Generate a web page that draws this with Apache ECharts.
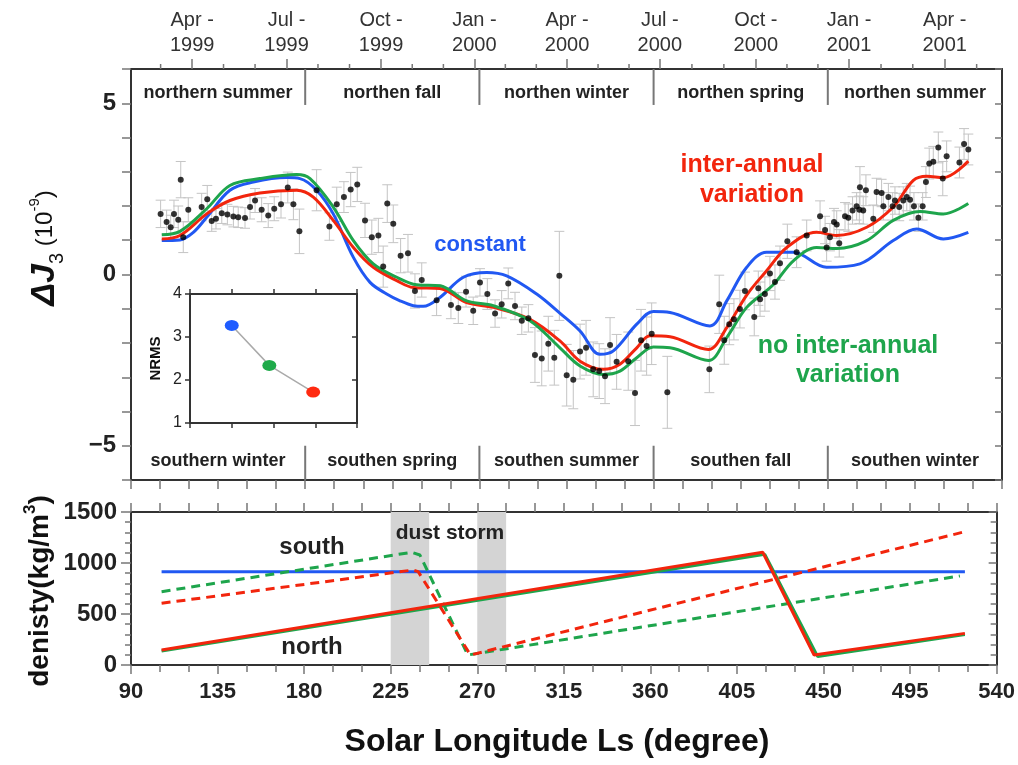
<!DOCTYPE html>
<html>
<head>
<meta charset="utf-8">
<script src="https://cdn.jsdelivr.net/npm/echarts@6/dist/echarts.min.js"></script>
<style>
  html, body { margin: 0; padding: 0; background: #fff; }
  #chart { width: 1018px; height: 765px; }
</style>
</head>
<body>
<div id="chart"></div>
<script>
// ==================== 数据 ====================

// 顶部日期刻度（对应的 Ls 位置）
const dateLs = [121.6, 170.4, 219.2, 267.4, 315.3, 363.2, 412.8, 461.0, 510.4];
const dateLabels = ['Apr -\n1999', 'Jul -\n1999', 'Oct -\n1999', 'Jan -\n2000', 'Apr -\n2000',
  'Jul -\n2000', 'Oct -\n2000', 'Jan -\n2001', 'Apr -\n2001'];
// 月份小刻度
const monthLs = [105.3, 137.8, 154.1, 186.6, 202.9, 235.3, 251.4, 283.4, 299.4, 331.3,
  347.3, 379.8, 396.3, 428.9, 444.9, 477.5, 493.9, 526.9];

// 季节分界与标签
const seasonBounds = [180, 270, 360, 450];
const seasonMid = [135, 225, 315, 405, 495];
const northSeasons = ['northern summer', 'northen fall', 'northen winter', 'northen spring', 'northen summer'];
const southSeasons = ['southern winter', 'southen spring', 'southen summer', 'southen fall', 'southen winter'];

// 观测值 [Ls, ΔJ3, 误差]
const observed = [
  [105.3, 1.77, 0.4], [108.4, 1.53, 0.35], [110.5, 1.38, 0.35], [112.2, 1.77, 0.4], [114.4, 1.60, 0.4],
  [115.7, 2.77, 0.53], [117, 1.09, 0.45], [119.6, 1.89, 0.35], [126.5, 1.97, 0.4], [129.4, 2.20, 0.4],
  [131.7, 1.56, 0.3], [133.9, 1.63, 0.3], [136.9, 1.79, 0.3], [139.8, 1.75, 0.3], [142.9, 1.69, 0.3],
  [145.4, 1.67, 0.3], [148.9, 1.65, 0.3], [151.5, 1.97, 0.35], [154.1, 2.16, 0.35], [157.5, 1.89, 0.35],
  [160.9, 1.72, 0.35], [164.0, 1.92, 0.35], [167.5, 2.05, 0.4], [171, 2.54, 0.45], [173.9, 2.05, 0.45],
  [177, 1.26, 0.65], [185.9, 2.46, 0.6], [192.5, 1.40, 0.4], [196.3, 2.05, 0.5], [200, 2.26, 0.45],
  [203.5, 2.48, 0.5], [206.9, 2.63, 0.5], [210.9, 1.58, 0.5], [214.4, 1.09, 0.5], [217.8, 1.14, 0.5],
  [220.3, 0.23, 0.6], [222.4, 2.07, 0.55], [225.5, 1.48, 0.55], [229.3, 0.55, 0.5], [233.1, 0.62, 0.55],
  [236.7, -0.48, 0.5], [240.2, -0.16, 0.5], [247.9, -0.75, 0.45], [255.3, -0.89, 0.4], [259.1, -0.98, 0.45],
  [263.1, -0.50, 0.45], [266.8, -1.06, 0.4], [270.3, -0.23, 0.4], [274.1, -0.57, 0.45], [278.1, -1.14, 0.4],
  [281.5, -0.87, 0.4], [284.9, -0.26, 0.45], [288.4, -0.92, 0.4], [291.9, -1.35, 0.4], [295.3, -1.28, 0.4],
  [298.7, -2.35, 0.8], [302.2, -2.45, 0.8], [305.6, -2.02, 0.8], [308.7, -2.43, 0.8], [311.3, -0.04, 1.3],
  [315.1, -2.94, 0.9], [318.5, -3.07, 0.85], [322, -2.25, 0.8], [325.1, -2.14, 0.8], [328.8, -2.77, 0.8],
  [331.9, -2.82, 0.8], [334.9, -2.97, 0.8], [337.5, -2.06, 0.8], [340.9, -2.55, 0.8], [346.9, -2.53, 0.85],
  [350.4, -3.46, 0.95], [353.5, -1.92, 0.9], [356.4, -2.09, 0.85], [359, -1.73, 0.9], [367.1, -3.44, 1.05],
  [388.8, -2.77, 0.68], [393.9, -0.87, 0.85], [396.5, -1.92, 0.7], [399.1, -1.45, 0.6], [401.5, -1.31, 0.6],
  [404.6, -1.01, 0.55], [407.2, -0.48, 0.55], [412, -1.24, 0.55], [414.1, -0.40, 0.5], [415, -0.72, 0.5],
  [417.5, -0.57, 0.5], [420.1, 0.03, 0.5], [422.7, -0.22, 0.5], [425.3, 0.33, 0.5], [429.1, 0.97, 0.5],
  [433.9, 0.65, 0.45], [439.1, 1.14, 0.45], [446, 1.70, 0.45], [448.6, 1.30, 0.4], [449.4, 0.79, 0.4],
  [451.1, 1.09, 0.4], [453.2, 1.53, 0.4], [454.6, 1.46, 0.4], [455.9, 0.91, 0.4], [458.9, 1.70, 0.4],
  [460.6, 1.66, 0.4], [462.8, 1.87, 0.4], [464.9, 1.99, 0.4], [466.3, 1.89, 0.4], [466.6, 2.55, 0.6],
  [468.3, 1.87, 0.4], [469.7, 2.46, 0.45], [473.5, 1.63, 0.4], [475.2, 2.41, 0.4], [477.8, 2.38, 0.4],
  [478.7, 1.99, 0.4], [481.3, 2.26, 0.4], [483.5, 1.99, 0.4], [484.7, 2.16, 0.4], [486.9, 1.97, 0.4],
  [489, 2.16, 0.4], [490.8, 2.26, 0.4], [492.5, 2.18, 0.4], [494.5, 1.99, 0.4], [496.8, 1.66, 0.4],
  [499, 1.99, 0.4], [500.7, 2.70, 0.45], [502.4, 3.24, 0.45], [504.5, 3.29, 0.45], [507.1, 3.71, 0.45],
  [509.4, 2.80, 0.5], [511.4, 3.45, 0.45], [518, 3.27, 0.45], [520.4, 3.81, 0.45], [522.6, 3.65, 0.45]
];

// 模型曲线 [Ls, ΔJ3]
const constantFit = [
  [105.9, 0.99], [115.3, 1.01], [122.2, 1.23], [129.1, 1.67], [141.1, 2.46], [153.2, 2.70], [170.4, 2.83],
  [177.3, 2.80], [185.9, 2.46], [194.5, 1.77], [204.9, 0.50], [213.5, -0.23], [222.1, -0.57], [229, -0.77],
  [235.9, -0.91], [241, -0.93], [249.6, -0.67], [261.7, -0.08], [273.8, 0.06], [284.1, -0.04], [299.6, -0.57],
  [312, -1.15], [322, -1.65], [332.3, -2.33], [339.2, -2.23], [351.3, -1.45], [359.9, -1.08], [368.5, -1.11],
  [389.1, -1.50], [397.8, -0.77], [408.1, 0.21], [418.4, 0.65], [432.2, 0.65], [449.4, 0.21], [466.6, 0.31],
  [483.8, 0.99], [495.9, 1.33], [509.7, 1.04], [522.6, 1.23]
];
const interAnnualFit = [
  [105.9, 1.04], [115.3, 1.14], [129.1, 1.77], [141.1, 2.16], [156.6, 2.38], [175.6, 2.46], [184.2, 2.26],
  [194.5, 1.58], [204.9, 0.79], [215.2, 0.21], [227.3, -0.18], [235.9, -0.38], [249.6, -0.41], [263.4, -0.82],
  [277.2, -0.96], [296.1, -1.31], [311.6, -1.94], [322, -2.53], [334, -2.77], [342.6, -2.62], [351.3, -2.14],
  [358.1, -1.79], [368.5, -1.82], [388.3, -2.19], [397.8, -1.55], [408.1, -0.6], [418.4, 0.11], [428.8, 0.79],
  [444.2, 1.23], [454.6, 1.14], [470.1, 1.38], [483.8, 1.97], [494.2, 2.75], [501.1, 2.87], [509.7, 2.83],
  [522.6, 3.31]
];
const noInterAnnualFit = [
  [105.9, 1.16], [115.3, 1.26], [129.1, 1.92], [141.1, 2.60], [156.6, 2.80], [175.6, 2.92], [182.5, 2.80],
  [194.5, 1.97], [204.9, 0.99], [215.2, 0.31], [227.3, -0.08], [237.6, -0.30], [249.6, -0.33], [263.4, -0.77],
  [277.2, -0.91], [296.1, -1.35], [311.6, -2.14], [322, -2.67], [334, -2.92], [342.6, -2.82], [351.3, -2.43],
  [359.9, -2.12], [368.5, -2.14], [388.3, -2.51], [397.8, -1.84], [408.1, -0.96], [421.8, -0.3], [432.2, 0.40],
  [444.2, 0.79], [454.6, 0.76], [470.1, 0.99], [483.8, 1.58], [497.6, 1.84], [509.7, 1.77], [522.6, 2.07]
];

// NRMS 小图
const nrmsX = [1, 1.9, 2.95];
const nrmsY = [3.27, 2.34, 1.72];
const nrmsColors = ['#1f5cff', '#1faa4a', '#ff2a10'];

// 密度（kg/m3）
const dustStorms = [[225, 245], [270, 285]];
const densityConst = [[105.9, 915], [523.5, 915]];
const northInter = [[105.9, 147], [418.4, 1105], [445.1, 98], [523.5, 310]];
const northNoInter = [[105.9, 138], [419.5, 1085], [447, 82], [523.5, 298]];
const southInter = [[105.9, 605], [236.5, 931], [239.3, 915], [266.5, 98], [523.5, 1307]];
const southNoInter = [[105.9, 719], [235.9, 1105], [240.2, 1078], [265.1, 98], [520.9, 873]];

// ==================== 样式 ====================

const FONT = "'Liberation Sans', Arial, Helvetica, sans-serif";
const BLUE = '#2158f2';
const RED = '#f2250d';
const GREEN = '#1ea54c';
const frameLine = { show: true, onZero: false, lineStyle: { color: '#333', width: 2 } };
const tickGray = { color: '#777', width: 1.5 };

function plainAxis(extra) {
  return Object.assign({
    type: 'value',
    axisLine: frameLine,
    axisLabel: { show: false },
    splitLine: { show: false }
  }, extra);
}

// 误差棒
function renderErrorBar(params, api) {
  const ls = api.value(0), v = api.value(1), e = api.value(2);
  const top = api.coord([ls, v + e]);
  const bot = api.coord([ls, v - e]);
  const cap = 5;
  const style = { stroke: '#c4c4c4', lineWidth: 1 };
  return {
    type: 'group',
    children: [
      { type: 'line', shape: { x1: top[0], y1: top[1], x2: bot[0], y2: bot[1] }, style },
      { type: 'line', shape: { x1: top[0] - cap, y1: top[1], x2: top[0] + cap, y2: top[1] }, style },
      { type: 'line', shape: { x1: bot[0] - cap, y1: bot[1], x2: bot[0] + cap, y2: bot[1] }, style }
    ]
  };
}

function seasonText(names) {
  return function (params, api) {
    const p = api.coord([api.value(0), api.value(1)]);
    return {
      type: 'text',
      x: p[0], y: p[1],
      style: {
        text: names[params.dataIndex], fill: '#222',
        font: 'bold 18px ' + FONT, align: 'center', verticalAlign: 'middle'
      }
    };
  };
}

function renderDivider(params, api) {
  const b = api.value(0);
  const style = { stroke: '#777', lineWidth: 2 };
  const a1 = api.coord([b, 6]), a2 = api.coord([b, 4.95]);
  const b1 = api.coord([b, -5.0]), b2 = api.coord([b, -6]);
  return {
    type: 'group',
    children: [
      { type: 'line', shape: { x1: a1[0], y1: a1[1], x2: a2[0], y2: a2[1] }, style },
      { type: 'line', shape: { x1: b1[0], y1: b1[1], x2: b2[0], y2: b2[1] }, style }
    ]
  };
}

function renderMonthTick(params, api) {
  const p = api.coord([api.value(0), api.value(1)]);
  return {
    type: 'line',
    shape: { x1: p[0], y1: p[1], x2: p[0], y2: p[1] - 5 },
    style: { stroke: '#777', lineWidth: 1.5 }
  };
}

function fitLine(data, color) {
  return {
    type: 'line', xAxisIndex: 0, yAxisIndex: 0, data: data,
    smooth: 0.35, showSymbol: false, z: 3,
    lineStyle: { color: color, width: 3 }
  };
}

function densityLine(data, color, dashed, z) {
  return {
    type: 'line', xAxisIndex: 2, yAxisIndex: 2, data: data,
    showSymbol: false, z: z,
    lineStyle: { color: color, width: 3, type: dashed ? [9, 6] : 'solid' }
  };
}

function textItem(x, y, text, font, color, extra) {
  return {
    type: 'text', x: x, y: y, z: 100,
    style: Object.assign({ text: text, font: font, fill: color, align: 'center', verticalAlign: 'middle' }, extra)
  };
}

// ==================== 图表 ====================

const chart = echarts.init(document.getElementById('chart'));

const option = {
  animation: false,
  backgroundColor: '#fff',
  grid: [
    { left: 131, top: 69, width: 871, height: 411 },
    { left: 131, top: 512, width: 871, height: 153 },
    { left: 190, top: 294, width: 167, height: 129, show: true, backgroundColor: '#fff', borderWidth: 0 }
  ],
  xAxis: [
    plainAxis({ gridIndex: 0, position: 'bottom', min: 90, max: 540, interval: 15,
      axisTick: { show: true, length: 9, lineStyle: tickGray } }),
    plainAxis({ gridIndex: 0, position: 'top', min: 90, max: 540,
      axisTick: { show: true, length: 10, customValues: dateLs, lineStyle: tickGray },
      axisLabel: {
        show: true, customValues: dateLs, margin: 11,
        fontFamily: FONT, fontSize: 20, color: '#333', lineHeight: 25,
        formatter: v => dateLabels[dateLs.findIndex(d => Math.abs(d - v) < 0.01)]
      } }),
    plainAxis({ gridIndex: 1, position: 'bottom', min: 90, max: 540, interval: 45,
      axisTick: { show: true, length: 9, lineStyle: tickGray },
      minorTick: { show: true, splitNumber: 3, length: 7, lineStyle: tickGray },
      axisLabel: { show: true, margin: 16, fontFamily: FONT, fontWeight: 'bold', fontSize: 22, color: '#222' } }),
    plainAxis({ gridIndex: 1, position: 'top', min: 90, max: 540, interval: 15,
      axisTick: { show: true, length: 9, lineStyle: tickGray } }),
    plainAxis({ gridIndex: 2, position: 'bottom', min: 0, max: 4, interval: 1,
      axisTick: { show: true, length: 5, lineStyle: { color: '#333', width: 1.5 } } }),
    plainAxis({ gridIndex: 2, position: 'top', min: 0, max: 4, interval: 1,
      axisTick: { show: true, length: 5, lineStyle: { color: '#333', width: 1.5 } } })
  ],
  yAxis: [
    plainAxis({ gridIndex: 0, position: 'left', min: -6, max: 6, interval: 1,
      axisTick: { show: true, length: 9, lineStyle: tickGray },
      axisLabel: {
        show: true, margin: 15, fontFamily: FONT, fontWeight: 'bold', fontSize: 24, color: '#222',
        formatter: v => (v === 5 ? '5' : v === 0 ? '0' : v === -5 ? '\u22125' : '')
      } }),
    plainAxis({ gridIndex: 0, position: 'right', min: -6, max: 6, interval: 1,
      axisTick: { show: true, inside: true, length: 7, lineStyle: tickGray } }),
    plainAxis({ gridIndex: 1, position: 'left', min: 0, max: 1500, interval: 500,
      axisTick: { show: true, length: 10, lineStyle: tickGray },
      minorTick: { show: true, splitNumber: 5, length: 6, lineStyle: tickGray },
      axisLabel: { show: true, margin: 14, fontFamily: FONT, fontWeight: 'bold', fontSize: 24, color: '#222',
        formatter: v => String(v) } }),
    plainAxis({ gridIndex: 1, position: 'right', min: 0, max: 1500, interval: 500,
      axisTick: { show: true, inside: true, length: 8, lineStyle: tickGray },
      minorTick: { show: true, splitNumber: 5, length: 6, lineStyle: tickGray } }),
    plainAxis({ gridIndex: 2, position: 'left', min: 1, max: 4, interval: 1,
      axisTick: { show: true, length: 5, lineStyle: { color: '#333', width: 1.5 } },
      axisLabel: { show: true, margin: 8, fontFamily: FONT, fontSize: 16, color: '#222' },
      name: 'NRMS', nameLocation: 'middle', nameRotate: 90, nameGap: 27,
      nameTextStyle: { fontFamily: FONT, fontWeight: 'bold', fontSize: 15, color: '#111' } }),
    plainAxis({ gridIndex: 2, position: 'right', min: 1, max: 4, interval: 1,
      axisTick: { show: true, inside: true, length: 5, lineStyle: { color: '#333', width: 1.5 } } })
  ],
  series: [
    // 上图
    {
      type: 'custom', xAxisIndex: 0, yAxisIndex: 0, z: 2,
      renderItem: renderErrorBar, encode: { x: 0, y: 1 }, data: observed
    },
    fitLine(constantFit, BLUE),
    fitLine(interAnnualFit, RED),
    fitLine(noInterAnnualFit, GREEN),
    {
      type: 'scatter', xAxisIndex: 0, yAxisIndex: 0, z: 5,
      symbolSize: 6, itemStyle: { color: '#000' },
      data: observed.map(d => [d[0], d[1]])
    },
    {
      type: 'custom', xAxisIndex: 0, yAxisIndex: 0, renderItem: seasonText(northSeasons),
      encode: { x: 0, y: 1 }, data: seasonMid.map(m => [m, 5.3])
    },
    {
      type: 'custom', xAxisIndex: 0, yAxisIndex: 0, renderItem: seasonText(southSeasons),
      encode: { x: 0, y: 1 }, data: seasonMid.map(m => [m, -5.45])
    },
    {
      type: 'custom', xAxisIndex: 0, yAxisIndex: 0, renderItem: renderDivider,
      encode: { x: 0, y: 1 }, data: seasonBounds.map(b => [b, 0])
    },
    {
      type: 'custom', xAxisIndex: 1, yAxisIndex: 0, renderItem: renderMonthTick,
      encode: { x: 0, y: 1 }, data: monthLs.map(m => [m, 6])
    },
    // NRMS 小图
    {
      type: 'line', xAxisIndex: 4, yAxisIndex: 4, z: 6,
      symbol: 'circle', symbolSize: [14, 11],
      lineStyle: { color: '#aaa', width: 1.5 },
      data: nrmsX.map((x, i) => ({ value: [x, nrmsY[i]], itemStyle: { color: nrmsColors[i] } }))
    },
    // 下图
    {
      type: 'line', xAxisIndex: 2, yAxisIndex: 2, data: [], z: 1,
      markArea: {
        silent: true,
        itemStyle: { color: '#d4d4d4' },
        data: dustStorms.map(d => [{ xAxis: d[0] }, { xAxis: d[1] }])
      }
    },
    densityLine(densityConst, BLUE, false, 3),
    densityLine(northNoInter, GREEN, false, 4),
    densityLine(northInter, RED, false, 5),
    densityLine(southNoInter, GREEN, true, 4),
    densityLine(southInter, RED, true, 5)
  ],
  graphic: [
    {
      type: 'text', x: 45, y: 248, rotation: Math.PI / 2, z: 100,
      style: {
        text: '{d|\u0394J}{s|3}{n| (10}{p|-9}{n|)}',
        align: 'center', verticalAlign: 'middle', fill: '#111',
        rich: {
          d: { fontFamily: FONT, fontSize: 34, fontWeight: 'bold', fontStyle: 'italic', lineHeight: 44, verticalAlign: 'middle' },
          s: { fontFamily: FONT, fontSize: 20, lineHeight: 44, verticalAlign: 'bottom' },
          n: { fontFamily: FONT, fontSize: 24, lineHeight: 44, verticalAlign: 'middle' },
          p: { fontFamily: FONT, fontSize: 15, lineHeight: 44, verticalAlign: 'top', padding: [4, 0, 0, 0] }
        }
      }
    },
    {
      type: 'text', x: 40, y: 591, rotation: Math.PI / 2, z: 100,
      style: {
        text: '{a|denisty(kg/m}{p|3}{a|)}',
        align: 'center', verticalAlign: 'middle', fill: '#111',
        rich: {
          a: { fontFamily: FONT, fontSize: 28, fontWeight: 'bold', lineHeight: 36, verticalAlign: 'middle' },
          p: { fontFamily: FONT, fontSize: 17, fontWeight: 'bold', lineHeight: 36, verticalAlign: 'top' }
        }
      }
    },
    textItem(557, 742, 'Solar Longitude Ls (degree)', 'bold 32px ' + FONT, '#111'),
    textItem(480, 245, 'constant', 'bold 22px ' + FONT, BLUE),
    textItem(752, 180, 'inter-annual\nvariation', 'bold 25px ' + FONT, RED, { lineHeight: 30 }),
    textItem(848, 361, 'no inter-annual\nvariation', 'bold 25px ' + FONT, GREEN, { lineHeight: 29 }),
    textItem(450, 533, 'dust storm', 'bold 21px ' + FONT, '#222'),
    textItem(312, 547, 'south', 'bold 24px ' + FONT, '#222'),
    textItem(312, 647, 'north', 'bold 24px ' + FONT, '#222')
  ]
};

chart.setOption(option);
window.addEventListener('resize', () => chart.resize());
</script>
</body>
</html>
